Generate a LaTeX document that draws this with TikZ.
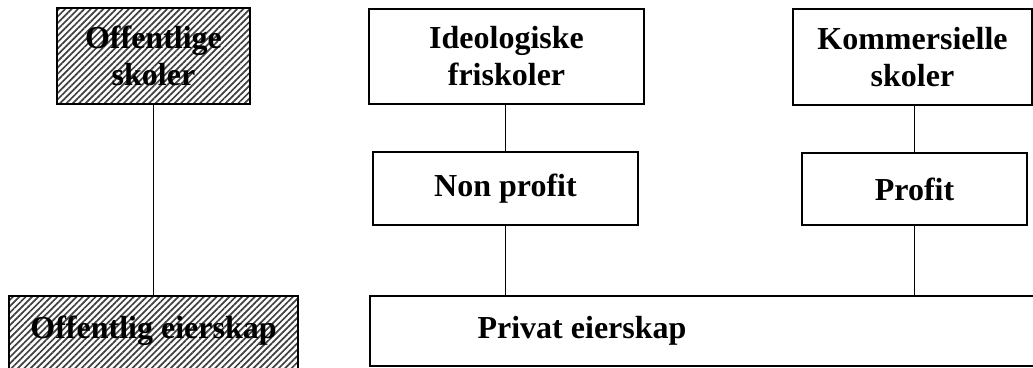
\documentclass[tikz,border=0pt]{standalone}
\usepackage{fontspec}
\setmainfont{Liberation Serif}
\usetikzlibrary{patterns.meta}
\begin{document}
\begin{tikzpicture}[x=1pt,y=-1pt,
  box/.style={draw,line width=1.8pt,inner sep=0pt,align=center,
    font=\fontsize{32}{37}\selectfont\bfseries},
  hatch/.style={box,pattern={Lines[angle=45,distance=4.5pt,line width=1.7pt]},pattern color=black!75},
  conn/.style={line width=1.4pt}]
\useasboundingbox (0,0) rectangle (1033,367);
\clip (0,0) rectangle (1033,367);
\node[hatch,minimum width=193,minimum height=96] (os) at (153.5,56) {Offentlige\\skoler};
\node[hatch,minimum width=289,minimum height=76] (oe) at (153.5,334) {};
\node[font=\fontsize{32}{37}\selectfont\bfseries] (oet) at (153.5,331) {Offentlig eierskap};
\node[box,minimum width=275,minimum height=95] (idf) at (506.5,56.5) {Ideologiske\\friskoler};
\node[box,minimum width=265,minimum height=73] (np) at (505.5,188.5) {Non profit};
\node[box,minimum width=239,minimum height=96] (ks) at (912.5,57) {Kommersielle\\skoler};
\node[box,minimum width=225,minimum height=72] (pr) at (914.5,189) {Profit};
\node[box,minimum width=675,minimum height=70] (pe) at (707.5,331) {};
\node[font=\fontsize{32}{37}\selectfont\bfseries] (pet) at (582,331) {Privat eierskap};
\draw[conn] (os.south) -- (oe.north);
\draw[conn] (np.north) -- (np.north |- idf.south);
\draw[conn] (np.south) -- (np.south |- pe.north);
\draw[conn] (pr.north) -- (pr.north |- ks.south);
\draw[conn] (pr.south) -- (pr.south |- pe.north);
\end{tikzpicture}
\end{document}
